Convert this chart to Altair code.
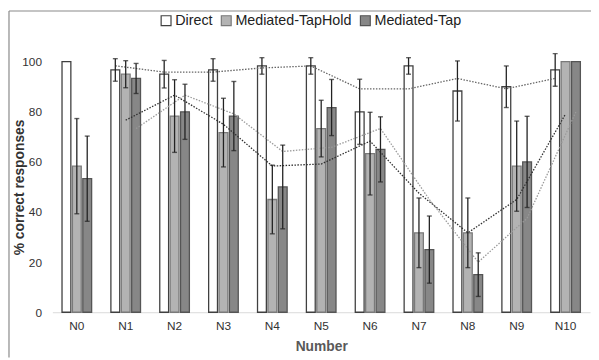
import altair as alt
import pandas as pd

categories = ["N0", "N1", "N2", "N3", "N4", "N5", "N6", "N7", "N8", "N9", "N10"]
series_names = ["Direct", "Mediated-TapHold", "Mediated-Tap"]

direct = [100, 96.7, 95, 96.7, 98.3, 98.3, 80, 98.3, 88.3, 90, 96.7]
direct_err = [0, 4.5, 5.5, 4.5, 3.3, 3.3, 13, 3.3, 12, 8.3, 6.5]
taphold = [58.3, 95, 78.3, 71.7, 45, 73.3, 63.3, 31.7, 31.7, 58.3, 100]
taphold_err = [19, 5.4, 14.5, 13.7, 13.7, 11.3, 16.5, 13.9, 13.9, 18, 0]
tap = [53.3, 93.3, 80, 78.3, 50, 81.7, 65, 25, 15, 60, 100]
tap_err = [17, 6, 11, 13.8, 16.7, 11.2, 13, 13.4, 8.7, 18.2, 0]

values = {"Direct": direct, "Mediated-TapHold": taphold, "Mediated-Tap": tap}
errors = {"Direct": direct_err, "Mediated-TapHold": taphold_err, "Mediated-Tap": tap_err}

rows = []
for s in series_names:
    v = values[s]
    e = errors[s]
    for i, c in enumerate(categories):
        ma = (v[i - 1] + v[i]) / 2 if i > 0 else None
        rows.append({"Number": c, "idx": i, "Series": s, "value": v[i],
                     "err": e[i], "lo": v[i] - e[i], "hi": v[i] + e[i], "ma": ma})
df = pd.DataFrame(rows)

FONT = "Liberation Sans"
NARROW = "Liberation Sans Narrow, Liberation Sans"

xenc = alt.X("Number:N", sort=categories,
             scale=alt.Scale(paddingInner=0.394, paddingOuter=0.197),
             axis=alt.Axis(title="Number", labelAngle=0, ticks=False, domainColor="#d9d9d9",
                           labelFont=FONT, labelFontSize=12, labelColor="#333333", labelPadding=8,
                           titleFont=FONT, titleFontSize=14, titleFontWeight="bold",
                           titleColor="#595959", titlePadding=9))
xoff = alt.XOffset("Series:N", sort=series_names,
                   scale=alt.Scale(paddingInner=0.15, paddingOuter=0))
yscale = alt.Scale(domain=[0, 100], nice=False)

bars = alt.Chart(df).mark_bar(strokeWidth=1.3).encode(
    x=xenc,
    xOffset=xoff,
    y=alt.Y("value:Q", scale=yscale,
            axis=alt.Axis(title="% correct responses", values=[0, 20, 40, 60, 80, 100],
                          domain=False, ticks=False, grid=False,
                          labelFont=FONT, labelFontSize=12, labelColor="#333333", labelPadding=11,
                          titleFont=FONT, titleFontSize=14, titleFontWeight="bold",
                          titleColor="#333333", titleX=-33, titleY=127, titleAngle=270,
                          titleAlign="center", titleBaseline="middle")),
    fill=alt.Fill("Series:N", sort=series_names,
                  scale=alt.Scale(domain=series_names, range=["#ffffff", "#b3b3b3", "#878787"]),
                  legend=alt.Legend(title=None, orient="none", legendX=108, legendY=-49,
                                    direction="horizontal", symbolType="square", symbolSize=100,
                                    symbolStrokeWidth=1.2, labelFont=NARROW, labelFontSize=14.5,
                                    labelColor="#222222", labelOffset=2, columnPadding=5)),
    stroke=alt.Stroke("Series:N", sort=series_names,
                      scale=alt.Scale(domain=series_names, range=["#404040", "#7a7a7a", "#555555"]),
                      legend=None),
)

err_df = df[df["err"] > 0]
rules = alt.Chart(err_df).mark_rule(color="#222222", strokeWidth=1.3).encode(
    x=alt.X("Number:N", sort=categories), xOffset=xoff,
    y=alt.Y("lo:Q", scale=yscale), y2="hi:Q")
caps_hi = alt.Chart(err_df).mark_tick(color="#222222", thickness=1.4, size=5).encode(
    x=alt.X("Number:N", sort=categories), xOffset=xoff, y=alt.Y("hi:Q", scale=yscale))
caps_lo = alt.Chart(err_df).mark_tick(color="#222222", thickness=1.4, size=5).encode(
    x=alt.X("Number:N", sort=categories), xOffset=xoff, y=alt.Y("lo:Q", scale=yscale))

ma_df = df[df["idx"] > 0]
lines = alt.Chart(ma_df).mark_line(strokeWidth=1.3, strokeDash=[1.5, 1.5]).encode(
    x=alt.X("Number:N", sort=categories), xOffset=xoff,
    y=alt.Y("ma:Q", scale=yscale),
    detail="Series:N",
    order=alt.Order("idx:Q"),
    color=alt.Color("Series:N", scale=alt.Scale(domain=series_names,
                                                range=["#666666", "#2e2e2e", "#9a9a9a"]),
                    legend=None),
)

frame_src = pd.DataFrame({"a": [0]})
frame_top = alt.Chart(frame_src).mark_rule(color="#8a8a8a", strokeWidth=1.2).encode(
    x=alt.value(-44), x2=alt.value(560), y=alt.value(-51.4))
frame_left = alt.Chart(frame_src).mark_rule(color="#8a8a8a", strokeWidth=1.2).encode(
    x=alt.value(-44), y=alt.value(-51.4), y2=alt.value(300))

chart = alt.layer(frame_top, frame_left, bars, lines, rules, caps_hi, caps_lo).properties(
    width=545, height=254,
    autosize=alt.AutoSizeParams(type="none"),
    padding={"left": 45, "top": 52, "right": 1, "bottom": 46},
).resolve_scale(color="independent").configure_view(stroke=None, clip=False)

chart.save("out.html", embed_options={"renderer": "svg", "actions": False})
